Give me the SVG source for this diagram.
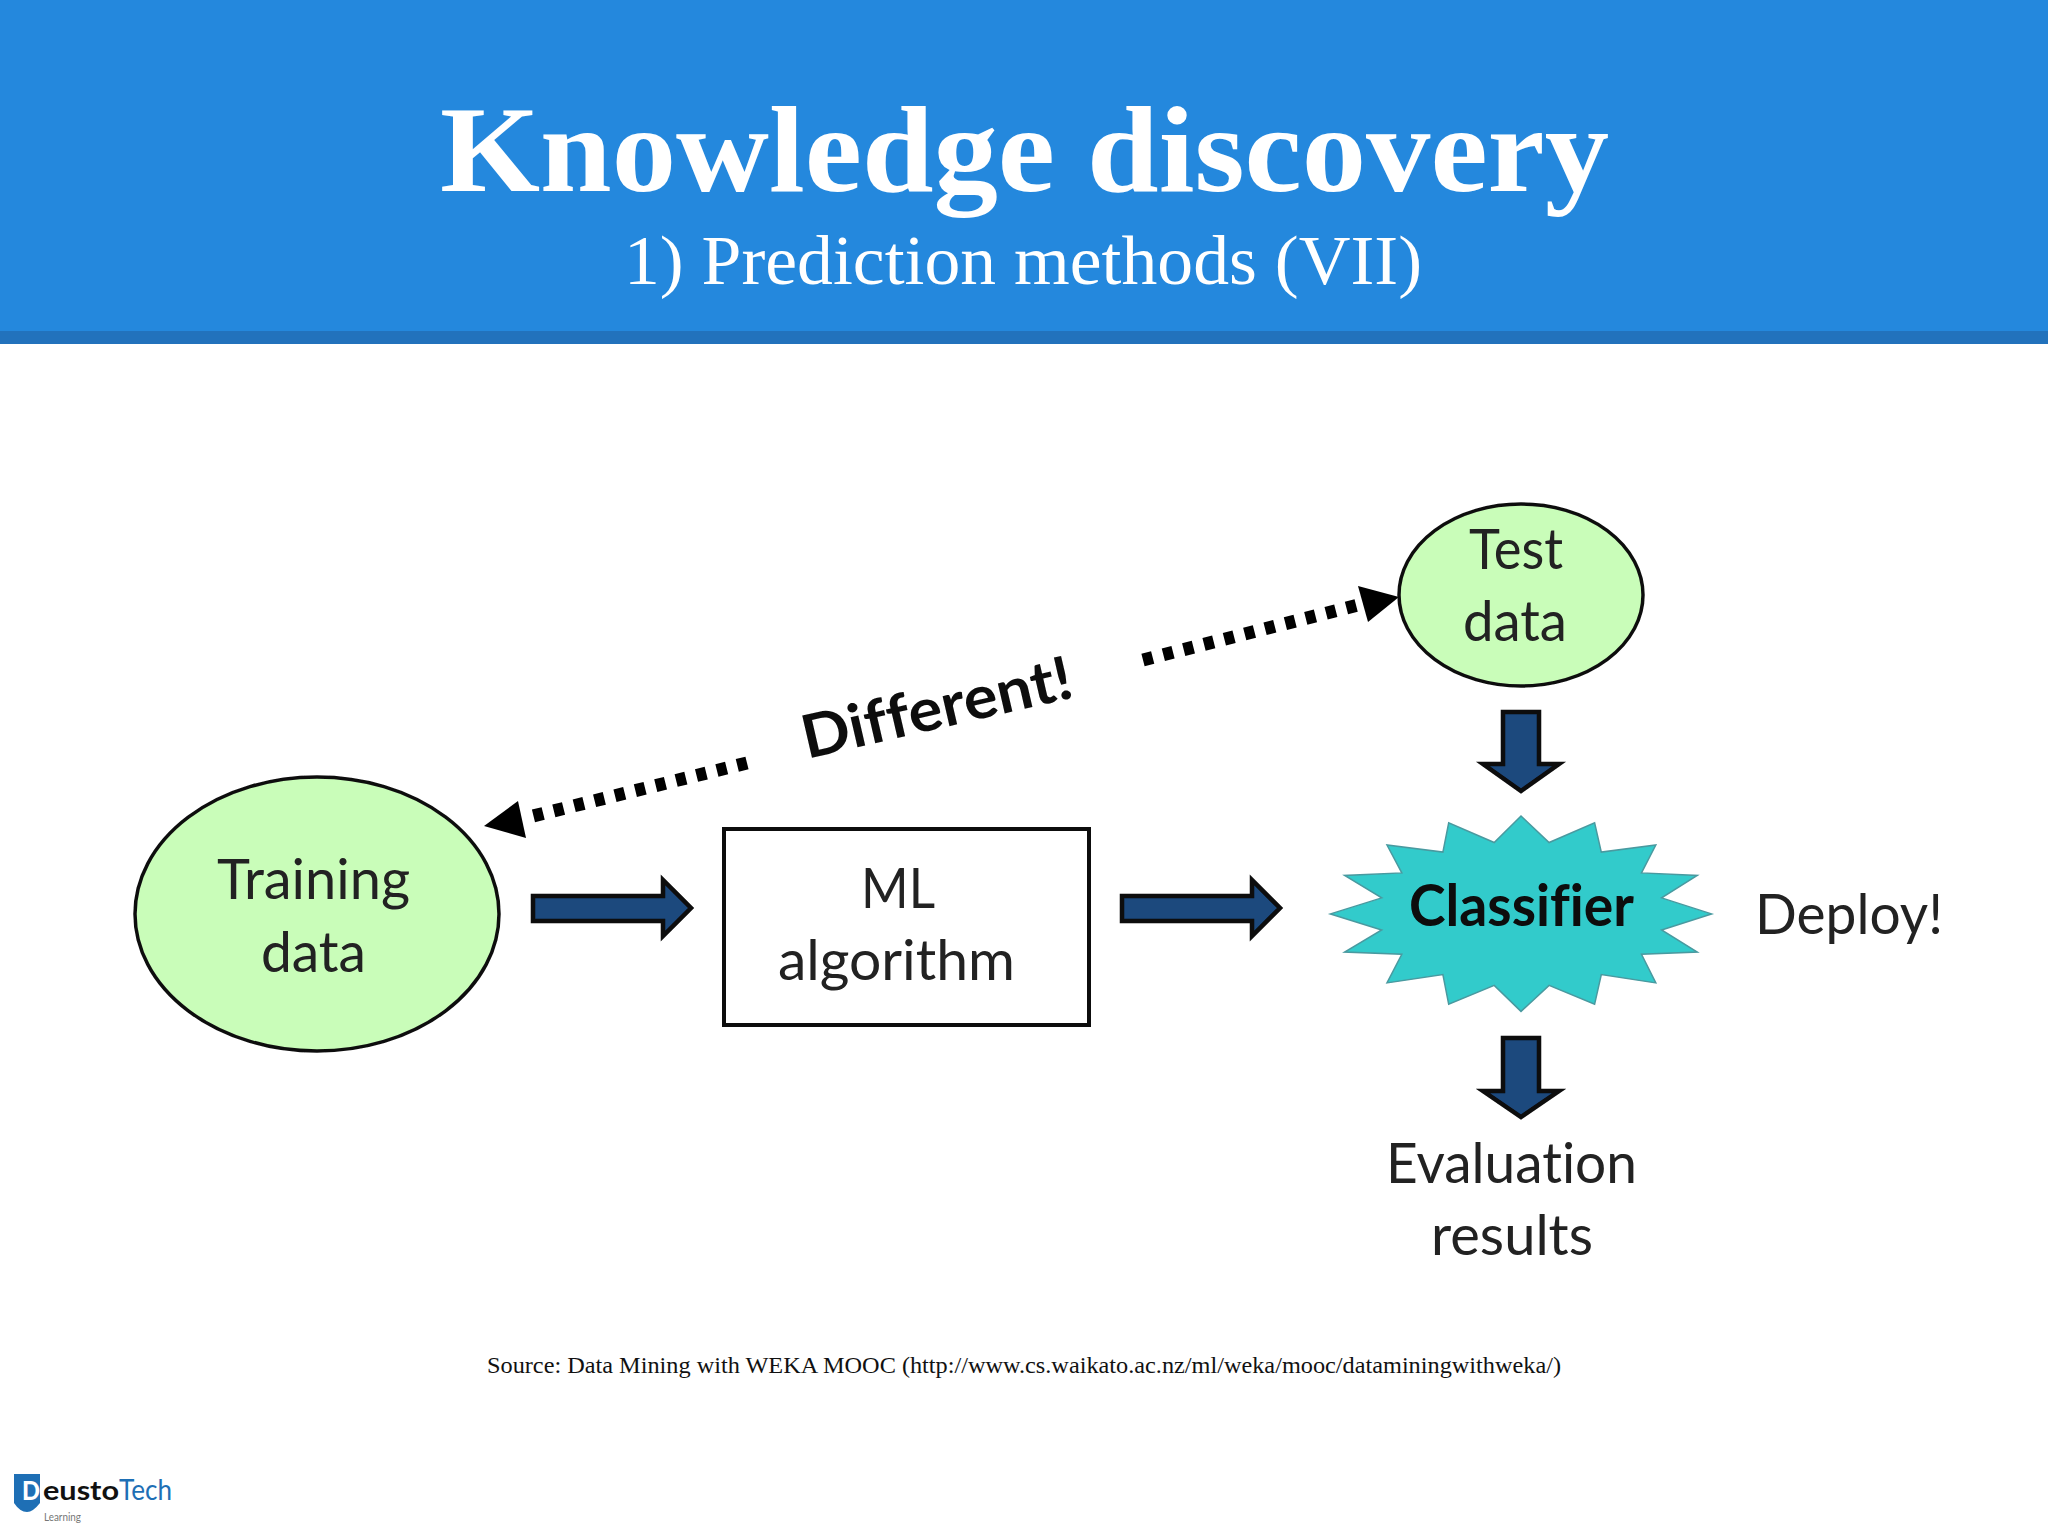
<svg xmlns="http://www.w3.org/2000/svg" width="2048" height="1536" viewBox="0 0 2048 1536">
<defs>
<filter id="soft" x="-5%" y="-5%" width="110%" height="110%"><feGaussianBlur stdDeviation="0.7"/></filter>
</defs>
<style>
.soft{filter:url(#soft)}
.lb{font-family:"Lato","Open Sans",sans-serif;font-size:57px;fill:#222;font-variant-ligatures:none}
.b{font-weight:700;fill:#0a0a0a}
.ser{font-family:"Liberation Serif",serif;fill:#fff}
.blob{fill:#c9fdb9;stroke:#111;stroke-width:3.5}
.blk{fill:#1f497d;stroke:#0a0a0a;stroke-width:4.5;stroke-linejoin:miter}
.dot{fill:none;stroke:#000;stroke-width:13;stroke-dasharray:10 11}
</style>
<rect width="2048" height="1536" fill="#fff"/>
<g id="header">
<rect width="2048" height="331" fill="#2488dd"/>
<rect y="331" width="2048" height="13" fill="#2272bc"/>
<text class="ser" x="440" y="191" font-size="122" font-weight="700" textLength="1169" lengthAdjust="spacingAndGlyphs">Knowledge discovery</text>
<text class="ser" x="624" y="284" font-size="70" textLength="798" lengthAdjust="spacingAndGlyphs">1) Prediction methods (VII)</text>
</g>
<g id="connectors" class="soft">
<polygon class="blk" points="533,896 663,896 663,880 691,908 663,936 663,921 533,921"/>
<polygon class="blk" points="1122,896 1252,896 1252,880 1280,908 1252,936 1252,921 1122,921"/>
<polygon class="blk" points="1503,712 1539,712 1539,764 1559,764 1521,791 1483,764 1503,764"/>
<polygon class="blk" points="1503,1038 1539,1038 1539,1091 1559,1091 1521,1117 1483,1091 1503,1091"/>
<path class="dot" d="M747,763 L525,818"/>
<polygon fill="#000" points="484,826 518,801 526,838"/>
<path class="dot" d="M1143,660 L1362,604"/>
<polygon fill="#000" points="1399,597 1358,586 1368,622"/>
</g>
<g id="training-data" class="soft">
<ellipse class="blob" cx="317" cy="914" rx="182" ry="137"/>
<text class="lb" x="217" y="899" textLength="193" lengthAdjust="spacingAndGlyphs">Training</text>
<text class="lb" x="261" y="972" textLength="105" lengthAdjust="spacingAndGlyphs">data</text>
</g>
<g id="ml-algorithm" class="soft">
<rect x="724" y="829" width="365" height="196" fill="#fff" stroke="#111" stroke-width="4"/>
<text class="lb" x="861" y="908" textLength="74" lengthAdjust="spacingAndGlyphs">ML</text>
<text class="lb" x="778" y="980" textLength="237" lengthAdjust="spacingAndGlyphs">algorithm</text>
</g>
<g id="test-data" class="soft">
<ellipse class="blob" cx="1521" cy="595" rx="122" ry="91"/>
<text class="lb" x="1469" y="569" textLength="94" lengthAdjust="spacingAndGlyphs">Test</text>
<text class="lb" x="1463" y="641" textLength="104" lengthAdjust="spacingAndGlyphs">data</text>
</g>
<g id="classifier" class="soft">
<polygon fill="#32cbcb" stroke="#4a9aa0" stroke-width="1.5" points="1521,816 1549.1,842.5 1594.6,822.9 1601.3,852.1 1655.8,845 1641.5,872.9 1697.3,875.4 1661.6,897.9 1711.6,913.9 1661.6,930 1697.3,952.1 1641.5,954.3 1655.8,982.9 1601.3,974.6 1594.6,1004.3 1549.1,985.4 1521,1011.4 1494.2,985.4 1448.7,1004.3 1442.9,974.6 1387,982.9 1401.8,954.3 1344.6,952.1 1381.7,930 1330.4,913.9 1381.7,897.9 1344.6,875.4 1401.8,872.9 1387,845 1442.9,852.1 1448.7,822.9 1494.2,842.5"/>
<text class="lb b" x="1409" y="926" textLength="225" lengthAdjust="spacingAndGlyphs">Classifier</text>
</g>
<g id="deploy" class="soft">
<text class="lb" x="1755" y="934" textLength="188" lengthAdjust="spacingAndGlyphs">Deploy!</text>
</g>
<g id="evaluation-results" class="soft">
<text class="lb" x="1386" y="1183" textLength="251" lengthAdjust="spacingAndGlyphs">Evaluation</text>
<text class="lb" x="1431" y="1255" textLength="162" lengthAdjust="spacingAndGlyphs">results</text>
</g>
<g id="different" class="soft">
<text class="lb b" transform="translate(807 759) rotate(-13)" x="0" y="0" style="font-size:60px" textLength="276" lengthAdjust="spacingAndGlyphs">Different!</text>
</g>
<g id="source">
<text x="487" y="1373" font-family="Liberation Serif, serif" font-size="23" fill="#111" textLength="1074" lengthAdjust="spacingAndGlyphs">Source: Data Mining with WEKA MOOC (http://www.cs.waikato.ac.nz/ml/weka/mooc/dataminingwithweka/)</text>
</g>
<g id="logo">
<path d="M14,1474 H40 V1503 Q33,1512 27,1512 Q20,1512 14,1503 Z" fill="#1e6fb5"/>
<text x="22" y="1500" font-family="Lato,sans-serif" font-weight="900" font-size="27" fill="#fff" textLength="18" lengthAdjust="spacingAndGlyphs">D</text>
<text x="43" y="1500" font-family="Lato,sans-serif" font-weight="700" font-size="27" fill="#111" textLength="76" lengthAdjust="spacingAndGlyphs">eusto</text>
<text x="119" y="1500" font-family="Lato,sans-serif" font-weight="400" font-size="29" fill="#1e6fb5" textLength="53" lengthAdjust="spacingAndGlyphs">Tech</text>
<text x="44" y="1521" font-family="Lato,sans-serif" font-size="12" fill="#777" textLength="37" lengthAdjust="spacingAndGlyphs">Learning</text>
</g>
</svg>
